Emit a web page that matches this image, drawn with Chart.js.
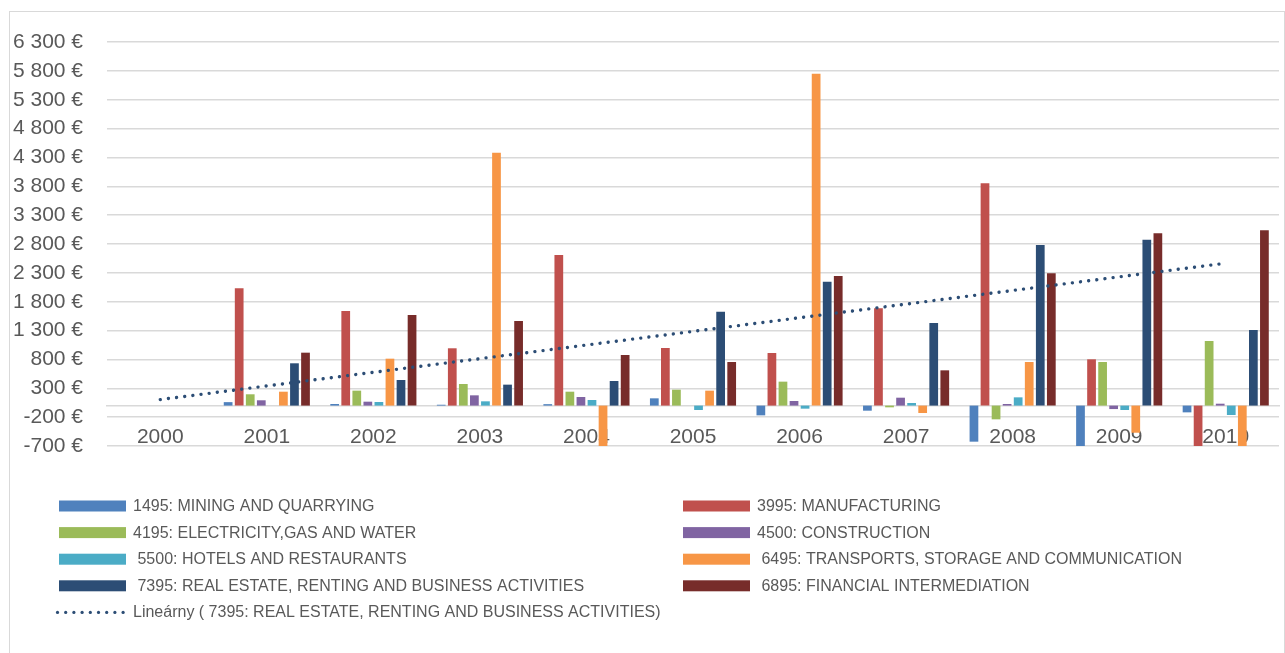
<!DOCTYPE html>
<html>
<head>
<meta charset="utf-8">
<script src="https://cdn.jsdelivr.net/npm/chart.js@4.4.1/dist/chart.umd.min.js"></script>
<style>
  html, body { margin: 0; padding: 0; background: #ffffff; }
  canvas { display: block; }
</style>
</head>
<body>
<canvas id="chart" width="1285" height="653"></canvas>
<script>
// Years on the category axis
const years = ['2000', '2001', '2002', '2003', '2004', '2005', '2006', '2007', '2008', '2009', '2010'];

// Annual values per sector (EUR)
const mining        = [0,   60,   28,   15,   25,  126, -169,  -88, -625, -760, -117];
const manufacturing = [0, 2033, 1640,  993, 2610,  998,  911, 1686, 3852,  802, -760];
const electricity   = [0,  196,  259,  374,  241,  276,  415,  -30, -238,  755, 1119];
const construction  = [0,   92,   68,  178,  149,    0,   80,  137,   28,  -60,   33];
const hotels        = [0,    0,   62,   74,   97,  -76,  -53,   45,  143,  -76, -163];
const transports    = [0,  241,  813, 4383, -760,  259, 5752, -128,  755, -470, -760];
const realEstate    = [0,  733,  444,  363,  426, 1628, 2147, 1431, 2783, 2875, 1310];
const financial     = [0,  917, 1570, 1466,  877,  755, 2246,  611, 2292, 2986, 3038];

// Value axis ticks
const yTickValues = [-700, -200, 300, 800, 1300, 1800, 2300, 2800, 3300, 3800, 4300, 4800, 5300, 5800, 6300];

// Series names as shown in the legend
const seriesLabels = [
  '1495: MINING AND QUARRYING',
  '3995: MANUFACTURING',
  '4195: ELECTRICITY,GAS AND WATER',
  '4500: CONSTRUCTION',
  ' 5500: HOTELS AND RESTAURANTS',
  ' 6495: TRANSPORTS, STORAGE AND COMMUNICATION',
  ' 7395: REAL ESTATE, RENTING AND BUSINESS ACTIVITIES',
  ' 6895: FINANCIAL INTERMEDIATION'
];
const seriesColors = ['#4F81BD', '#C0504D', '#9BBB59', '#8064A2', '#4BACC6', '#F79646', '#2C4D75', '#772C2A'];
const seriesValues = [mining, manufacturing, electricity, construction, hotels, transports, realEstate, financial];

// Least-squares linear trend of the real estate series
function linearTrend(values) {
  const n = values.length;
  let sx = 0, sy = 0, sxy = 0, sxx = 0;
  values.forEach((y, x) => { sx += x; sy += y; sxy += x * y; sxx += x * x; });
  const slope = (n * sxy - sx * sy) / (n * sxx - sx * sx);
  const intercept = (sy - slope * sx) / n;
  return values.map((_, x) => intercept + slope * x);
}

const FONT = "'Liberation Sans', Arial, sans-serif";
const TEXT = '#595959';
const GRID = '#d9d9d9';

function euro(v) {
  const s = String(Math.abs(v)).replace(/\B(?=(\d{3})+(?!\d))/g, ' ');
  return (v < 0 ? '-' : '') + s + ' €';
}

const datasets = seriesValues.map((vals, i) => ({
  type: 'bar',
  label: seriesLabels[i],
  data: vals,
  backgroundColor: seriesColors[i],
  borderWidth: 0,
  categoryPercentage: 0.83,
  barPercentage: 0.79,
  order: 1
}));

datasets.push({
  type: 'line',
  label: 'Lineárny (' + seriesLabels[6] + ')',
  data: linearTrend(realEstate),
  borderColor: '#2C4D75',
  borderWidth: 3.4,
  borderDash: [0.01, 8.2],
  borderCapStyle: 'round',
  pointRadius: 0,
  fill: false,
  tension: 0,
  order: 0
});

// Outer frame and two-column legend
const frameAndLegend = {
  id: 'frameAndLegend',
  beforeDraw(chart) {
    const ctx = chart.ctx;
    ctx.save();
    ctx.fillStyle = '#ffffff';
    ctx.fillRect(0, 0, chart.width, chart.height);
    ctx.strokeStyle = GRID;
    ctx.lineWidth = 1;
    ctx.strokeRect(9.5, 11.5, 1275, 660);
    ctx.restore();
  },
  afterDraw(chart) {
    const ctx = chart.ctx;
    const ds = chart.data.datasets;
    ctx.save();
    ctx.font = '16px ' + FONT;
    ctx.textBaseline = 'middle';
    ctx.textAlign = 'left';
    const rowY = r => 506 + r * 26.6;
    ds.forEach((d, i) => {
      if (d.type === 'bar') {
        const col = i % 2, row = Math.floor(i / 2);
        const sx = col ? 683 : 59;
        const tx = col ? 757 : 133;
        const y = rowY(row);
        ctx.fillStyle = d.backgroundColor;
        ctx.fillRect(sx, y - 5.5, 67, 11);
        ctx.fillStyle = TEXT;
        ctx.fillText(d.label, tx, y + 0.5);
      } else {
        const y = rowY(4);
        ctx.fillStyle = d.borderColor;
        for (let k = 0; k < 9; k++) {
          ctx.beginPath();
          ctx.arc(57.5 + k * 8.2, y, 1.6, 0, Math.PI * 2);
          ctx.fill();
        }
        ctx.fillStyle = TEXT;
        ctx.fillText(d.label, 133, y + 0.5);
      }
    });
    ctx.restore();
  }
};

new Chart(document.getElementById('chart'), {
  data: { labels: years, datasets },
  options: {
    responsive: false,
    animation: false,
    devicePixelRatio: 1,
    layout: { padding: { left: 0, top: 42, right: 6, bottom: 207 } },
    plugins: {
      legend: { display: false },
      tooltip: { enabled: false }
    },
    scales: {
      x: {
        type: 'category',
        position: { y: 0 },
        offset: true,
        grid: { display: false, drawTicks: false },
        border: { display: true, color: GRID, width: 1.5 },
        ticks: {
          color: TEXT,
          font: { family: FONT, size: 21 },
          padding: 19,
          maxRotation: 0,
          autoSkip: false
        }
      },
      y: {
        type: 'linear',
        min: -700,
        max: 6300,
        afterBuildTicks(scale) { scale.ticks = yTickValues.map(v => ({ value: v })); },
        afterFit(scale) { scale.width = 107; },
        grid: { color: GRID, lineWidth: 1.5, drawTicks: false },
        border: { display: false },
        ticks: {
          color: TEXT,
          font: { family: FONT, size: 21 },
          padding: 24,
          callback: v => euro(v)
        }
      }
    }
  },
  plugins: [frameAndLegend]
});
</script>
</body>
</html>
